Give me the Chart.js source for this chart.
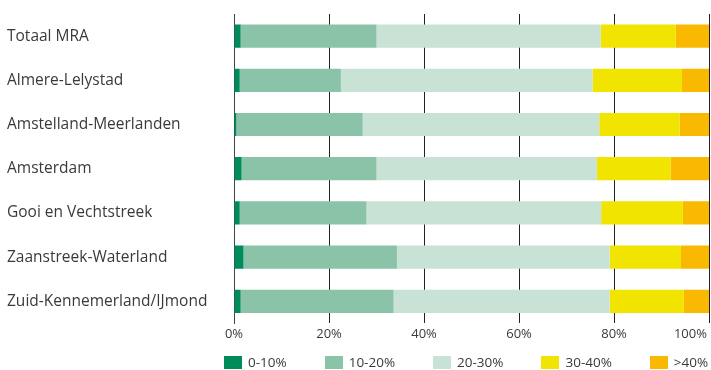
<!DOCTYPE html>
<html>
<head>
<meta charset="utf-8">
<script src="https://cdn.jsdelivr.net/npm/chart.js@4"></script>
<style>
  html, body { margin: 0; padding: 0; background: #fff; }
  #wrap { width: 711px; height: 370px; position: relative; }
  #legend {
    position: absolute; left: 224px; top: 355px;
    display: flex; align-items: center; white-space: nowrap;
    font-family: 'Open Sans', sans-serif; font-size: 13.5px; color: #3a3a3a;
  }
  #legend .item { display: flex; align-items: center; margin-right: 38px; height: 14px; }
  #legend .box { width: 18px; height: 13px; margin-right: 6px; }
</style>
</head>
<body>
<div id="wrap">
  <canvas id="chart"></canvas>
  <div id="legend"></div>
</div>
<script>
// regio's en aandelen per klasse (%)
const regions = ['Totaal MRA', 'Almere-Lelystad', 'Amstelland-Meerlanden', 'Amsterdam',
  'Gooi en Vechtstreek', 'Zaanstreek-Waterland', 'Zuid-Kennemerland/IJmond'];
const classLabels = ['0-10%', '10-20%', '20-30%', '30-40%', '>40%'];
const share0_10  = [1.4, 1.2, 0.5, 1.6, 1.2, 2.0, 1.4];
const share10_20 = [28.6, 21.3, 26.6, 28.4, 26.7, 32.3, 32.2];
const share20_30 = [47.2, 53.0, 49.8, 46.4, 49.4, 44.8, 45.5];
const share30_40 = [15.8, 18.8, 16.9, 15.5, 17.2, 15.0, 15.6];
const share40up  = [7.0, 5.7, 6.2, 8.1, 5.5, 5.9, 5.3];
const xTicks = ['0%', '20%', '40%', '60%', '80%', '100%'];

const colors = ['#008c5a', '#8ac3a8', '#c9e2d6', '#f0e400', '#f9b900'];
const series = [share0_10, share10_20, share20_30, share30_40, share40up];

const font = "'Open Sans', sans-serif";

const chart = new Chart(document.getElementById('chart'), {
  type: 'bar',
  data: {
    labels: regions,
    datasets: series.map((d, i) => ({
      label: classLabels[i],
      data: d,
      backgroundColor: colors[i],
      borderWidth: 0,
      barPercentage: 0.525,
      categoryPercentage: 1
    }))
  },
  options: {
    indexAxis: 'y',
    responsive: true,
    maintainAspectRatio: false,
    animation: false,
    layout: { padding: { left: 7, right: 2, top: 14, bottom: 25 } },
    plugins: {
      tooltip: { enabled: false },
      legend: { display: false }
    },
    scales: {
      x: {
        stacked: true,
        min: 0,
        max: 100,
        z: 1,
        grid: { color: '#222', lineWidth: 1, drawTicks: false },
        border: { display: false },
        ticks: {
          stepSize: 20,
          color: '#3a3a3a',
          font: { family: font, size: 13 },
          padding: 3,
          maxRotation: 0,
          // last label sits inside the plot edge
          callback: (v, i) => xTicks[i] + (i === xTicks.length - 1 ? '\u2007\u2007\u2007\u2007\u2007' : '')
        },
        afterFit: (s) => { s.paddingRight = 0; }
      },
      y: {
        stacked: true,
        grid: { display: false },
        border: { display: true, color: '#444', width: 1 },
        ticks: {
          crossAlign: 'far',
          color: '#3a3a3a',
          font: { family: font, size: 15.5 },
          padding: 10
        },
        afterFit: (s) => { s.width = 227; s.paddingTop = 0; s.paddingBottom = 0; }
      }
    }
  }
});

// legend below the plot
const legendEl = document.getElementById('legend');
chart.data.datasets.forEach((ds) => {
  const item = document.createElement('div');
  item.className = 'item';
  item.innerHTML = '<span class="box" style="background:' + ds.backgroundColor + '"></span>' + ds.label.replace('>', '&gt;');
  legendEl.appendChild(item);
});
</script>
</body>
</html>
